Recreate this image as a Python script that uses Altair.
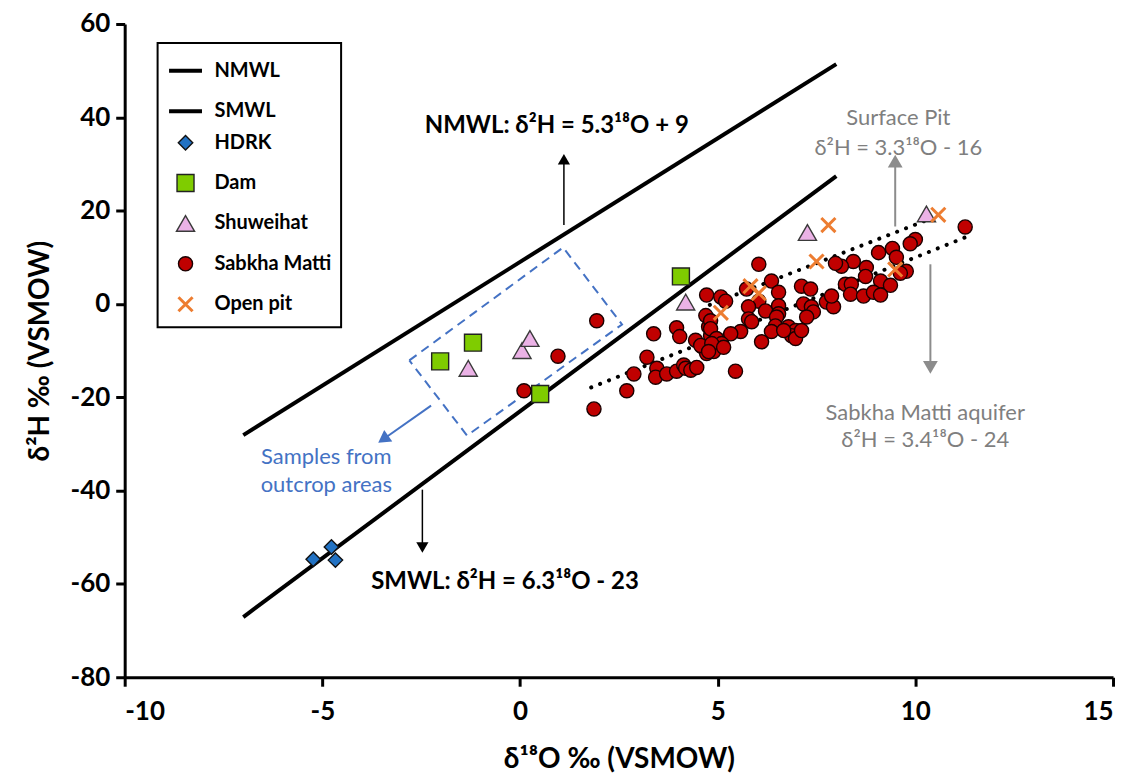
import altair as alt
import pandas as pd

# ---------------- data ----------------
series_names = ["NMWL", "SMWL", "HDRK", "Dam", "Shuweihat", "Sabkha Matti", "Open pit"]

hdrk_x = [-5.23, -4.77, -4.67]
hdrk_y = [-54.7, -52.1, -54.9]

dam_x = [-2.02, -1.19, 0.51, 4.07]
dam_y = [-12.3, -8.3, -19.3, 5.9]

shu_x = [-1.31, 0.05, 0.25, 4.19, 7.27, 10.28]
shu_y = [-13.8, -10.0, -7.4, 0.4, 15.3, 19.3]

sab_x = [0.96, 0.10, 1.94, 1.87, 2.70, 2.88, 3.21, 3.38, 3.46, 3.43,
         3.71, 3.96, 3.96, 4.04, 4.14, 4.19, 4.32, 4.47, 4.44, 4.60,
         4.72, 4.90, 4.82, 4.70, 4.77, 4.72, 5.08, 5.20, 5.73, 6.04,
         6.36, 6.54, 6.04, 5.78, 6.54, 6.21, 7.17, 7.12, 7.35, 7.37,
         7.42, 4.82, 5.78, 5.86, 6.54, 6.49, 7.25, 4.82, 6.46, 6.36,
         6.79, 6.97, 6.87, 6.97, 7.12, 5.58, 5.33, 4.57, 4.97, 5.10,
         4.85, 4.77, 5.15, 6.11, 5.45, 11.26, 10.00, 9.87, 9.42, 9.52,
         9.07, 8.43, 8.13, 7.98, 8.76, 8.74, 9.12, 9.37, 9.77, 9.62,
         8.23, 8.38, 8.36, 8.69, 8.94, 9.12, 7.75, 7.93, 7.88, 6.67]
sab_y = [-11.2, -18.6, -3.6, -22.5, -18.6, -15.0, -11.4, -6.4, -13.8, -15.7,
         -15.0, -14.4, -5.1, -7.0, -13.1, -13.8, -14.2, -13.6, -7.8, -9.1,
         -10.6, -10.2, -6.8, -2.5, -4.9, 1.9, 1.5, 0.6, 3.2, 8.5,
         4.9, 2.5, 0.6, -0.6, -0.4, -1.5, 0.0, 3.8, 3.2, -0.6,
         -1.7, -3.6, -3.2, -3.8, -2.1, -2.8, -2.8, -5.3, -4.7, -5.9,
         -4.9, -5.7, -6.8, -7.4, -5.7, -5.9, -6.4, -8.9, -7.4, -8.5,
         -8.5, -10.2, -9.3, -8.1, -14.4, 16.5, 13.8, 12.9, 11.9, 10.0,
         11.0, 9.1, 8.1, 8.7, 7.8, 5.9, 4.9, 4.0, 7.0, 6.6,
         4.2, 4.2, 2.1, 1.7, 2.5, 1.9, 0.4, -0.6, 1.7, -5.7]

pit_x = [5.08, 5.83, 6.04, 7.50, 7.80, 9.49, 10.58]
pit_y = [-1.9, 3.8, 2.3, 9.1, 16.9, 7.4, 19.1]

# meteoric water lines (end points)
nmwl_x = [-7.0, 8.0]
nmwl_y = [-28.1, 51.4]
smwl_x = [-7.0, 8.0]
smwl_y = [-67.1, 27.4]

# regression (dotted) lines
surf_x = [4.8, 10.3]
surf_y = [-0.2, 18.0]
sabl_x = [1.8, 11.3]
sabl_y = [-17.9, 14.4]

# outcrop box (dashed)
box_x = [-2.80, 1.09, 2.58, -1.34, -2.80]
box_y = [-12.1, 12.1, -4.4, -28.2, -12.1]

# annotation texts
bold_text = ["NMWL: δ²H = 5.3¹⁸O + 9", "SMWL: δ²H = 6.3¹⁸O - 23"]
bold_x = [0.93, -0.38]
bold_y = [38.1, -59.7]
gray_text = ["Surface Pit", "δ²H = 3.3¹⁸O - 16", "Sabkha Matti aquifer", "δ²H = 3.4¹⁸O - 24"]
gray_x = [9.57, 9.57, 10.25, 10.25]
gray_y = [39.8, 33.5, -23.3, -29.2]
blue_text = ["Samples from", "outcrop areas"]
blue_x = [-4.9, -4.9]
blue_y = [-32.8, -38.8]

# arrows: shaft start/end, head position and direction
blk_arrow = {"x": [1.11, -2.47], "y": [16.9, -39.8], "x2": [1.11, -2.47], "y2": [31.0, -52.2],
             "ang": [0, 180]}
gry_arrow = {"x": [9.49, 10.38], "y": [16.6, 8.5], "x2": [9.49, 10.38], "y2": [30.6, -13.6],
             "ang": [0, 180]}
blu_arrow = {"x": [-2.25], "y": [-21.8], "x2": [-3.46], "y2": [-29.0], "ang": [235]}

# ---------------- styles ----------------
fill_colors = ["black", "black", "#2272C3", "#7FCC00", "#EBB2E6", "#C00000", "#ED7D31"]
stroke_colors = ["black", "black", "#111111", "#222222", "#3a3a3a", "#1a0000", "#ED7D31"]
shapes = ["stroke", "stroke", "diamond", "square", "triangle-up", "circle",
          "M-1,-1L1,1M-1,1L1,-1"]
sizes = [1090, 1090, 210, 290, 330, 200, 200]
widths = [4, 4, 1.4, 1.4, 1.4, 1.4, 3]

FONT = "Lato"

pts = pd.DataFrame({
    "x": hdrk_x + dam_x + shu_x + sab_x + pit_x,
    "y": hdrk_y + dam_y + shu_y + sab_y + pit_y,
    "series": (["HDRK"] * len(hdrk_x) + ["Dam"] * len(dam_x) + ["Shuweihat"] * len(shu_x)
               + ["Sabkha Matti"] * len(sab_x) + ["Open pit"] * len(pit_x)),
})

xs = alt.Scale(domain=[-10, 15], nice=False, zero=False)
ys = alt.Scale(domain=[-80, 60], nice=False, zero=False)

axis_common = dict(grid=False, domainColor="black", domainWidth=3, tickColor="black",
                   tickWidth=3, tickSize=9, labelFont=FONT, labelFontSize=26,
                   labelFontWeight="bold", labelColor="black", titleFont=FONT,
                   titleFontSize=28, titleFontWeight="bold", titleColor="black",
                   labelExpr="datum.value + ''")
xaxis = alt.Axis(values=[-10, -5, 0, 5, 10, 15], title="δ¹⁸O ‰ (VSMOW)",
                 labelPadding=12, titlePadding=22, **axis_common)
yaxis = alt.Axis(values=[-80, -60, -40, -20, 0, 20, 40, 60], title="δ²H ‰ (VSMOW)",
                 labelPadding=6, titlePadding=16, **axis_common)

X = alt.X("x:Q", scale=xs, axis=xaxis)
Y = alt.Y("y:Q", scale=ys, axis=yaxis)

leg = alt.Legend(title=None, orient="none", legendX=33, legendY=19, labelFont=FONT,
                 labelFontSize=20, labelFontWeight="bold", labelColor="black",
                 strokeColor="black", padding=9, rowPadding=7.5, labelOffset=10,
                 symbolOpacity=1, gridAlign="all")

points = alt.Chart(pts).mark_point(filled=True, opacity=1).encode(
    x=X, y=Y,
    fill=alt.Fill("series:N", scale=alt.Scale(domain=series_names, range=fill_colors), legend=leg),
    stroke=alt.Stroke("series:N", scale=alt.Scale(domain=series_names, range=stroke_colors), legend=leg),
    shape=alt.Shape("series:N", scale=alt.Scale(domain=series_names, range=shapes), legend=leg),
    size=alt.Size("series:N", scale=alt.Scale(type="ordinal", domain=series_names, range=sizes), legend=leg),
    strokeWidth=alt.StrokeWidth("series:N", scale=alt.Scale(type="ordinal", domain=series_names, range=widths), legend=leg),
)

mwl = pd.DataFrame({"x": nmwl_x + smwl_x, "y": nmwl_y + smwl_y,
                    "line": ["NMWL"] * 2 + ["SMWL"] * 2})
mwl_lines = alt.Chart(mwl).mark_line(color="black", strokeWidth=4).encode(
    x=X, y=Y, detail="line:N")

reg = pd.DataFrame({"x": surf_x + sabl_x, "y": surf_y + sabl_y,
                    "line": ["surf"] * 2 + ["sab"] * 2})
reg_lines = alt.Chart(reg).mark_line(color="black", strokeWidth=4, strokeDash=[0.1, 9.5],
                                     strokeCap="round").encode(x=X, y=Y, detail="line:N")

box = pd.DataFrame({"x": box_x, "y": box_y, "i": list(range(len(box_x)))})
box_line = alt.Chart(box).mark_line(color="#4472C4", strokeWidth=2, strokeDash=[9, 6]).encode(
    x=X, y=Y, order="i:Q")


def arrow_layers(d, color, width, head_size):
    df = pd.DataFrame(d)
    shaft = alt.Chart(df).mark_rule(color=color, strokeWidth=width).encode(
        x=X, y=Y, x2="x2:Q", y2="y2:Q")
    head = alt.Chart(df).mark_point(shape="triangle-up", filled=True, color=color,
                                    opacity=1, size=head_size).encode(
        x=alt.X("x2:Q", scale=xs, axis=xaxis), y=alt.Y("y2:Q", scale=ys, axis=yaxis),
        angle=alt.Angle("ang:Q", scale=None))
    return [shaft, head]


arrows = (arrow_layers(blk_arrow, "black", 1.5, 150)
          + arrow_layers(gry_arrow, "#8C8C8C", 2, 220)
          + arrow_layers(blu_arrow, "#4472C4", 2, 200))

t_bold = alt.Chart(pd.DataFrame({"x": bold_x, "y": bold_y, "t": bold_text})).mark_text(
    font=FONT, fontSize=24, fontWeight="bold", color="black", align="center",
    baseline="middle").encode(x=X, y=Y, text="t:N")
t_gray = alt.Chart(pd.DataFrame({"x": gray_x, "y": gray_y, "t": gray_text})).mark_text(
    font=FONT, fontSize=22, color="#7F7F7F", align="center",
    baseline="middle").encode(x=X, y=Y, text="t:N")
t_blue = alt.Chart(pd.DataFrame({"x": blue_x, "y": blue_y, "t": blue_text})).mark_text(
    font=FONT, fontSize=22, color="#4472C4", align="center",
    baseline="middle").encode(x=X, y=Y, text="t:N")

chart = alt.layer(
    mwl_lines, reg_lines, box_line, *arrows, t_bold, t_gray, t_blue, points
).properties(
    width=991, height=655,
    autosize=alt.AutoSizeParams(type="none"),
    padding={"left": 117, "top": 15, "right": 12, "bottom": 100},
).configure_view(stroke=None).configure_legend(strokeWidth=2)

chart.save("out.html", embed_options={"renderer": "svg", "actions": False})
